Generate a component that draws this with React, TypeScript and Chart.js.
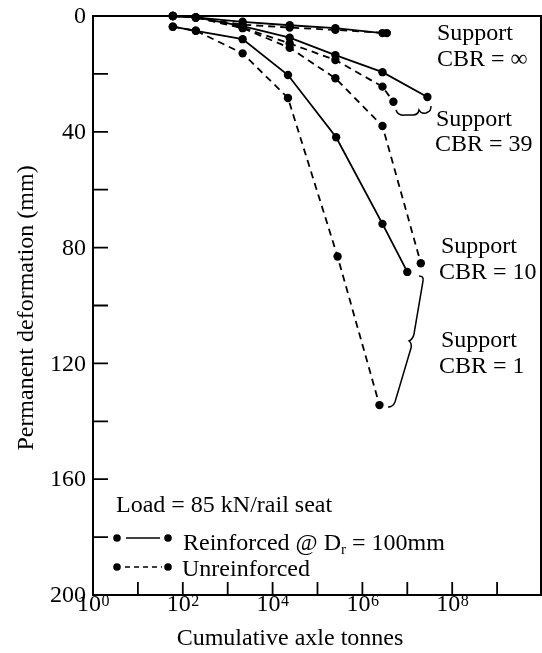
import React, { useEffect, useRef } from "react";
import { Chart, registerables } from "chart.js";

Chart.register(...registerables);

// ---- Data (x = cumulative axle tonnes, y = permanent deformation mm) ----
const infReinfX = [60, 195, 2150, 24000, 250000, 2800000];
const infReinfY = [0, 0.5, 2, 3.2, 4.2, 5.9];
const infUnreinfX = [60, 195, 2150, 24000, 250000, 3500000];
const infUnreinfY = [0, 0.5, 3, 4, 4.8, 5.9];

const cbr39ReinfX = [60, 195, 2150, 24000, 250000, 2800000, 28000000];
const cbr39ReinfY = [0, 0.5, 3.5, 7.5, 13.5, 19.4, 28];
const cbr39UnreinfX = [60, 195, 2150, 24000, 250000, 2800000, 4900000];
const cbr39UnreinfY = [0, 0.5, 4, 9.5, 15.2, 24.4, 29.6];

const cbr10UnreinfX = [60, 195, 2150, 24000, 250000, 2800000, 20000000];
const cbr10UnreinfY = [0, 0.5, 4.2, 11, 21.5, 38, 85.4];

const cbr1ReinfX = [60, 195, 2150, 22000, 260000, 2800000, 10000000];
const cbr1ReinfY = [3.7, 5.1, 8, 20.4, 41.9, 71.8, 88.4];
const cbr1UnreinfX = [60, 195, 2150, 22000, 280000, 2400000];
const cbr1UnreinfY = [3.7, 5.1, 12.9, 28.3, 83.1, 134.4];

const yLabels = [0, 40, 80, 120, 160, 200];
const yMinorTicks = [20, 40, 60, 80, 100, 120, 140, 160, 180];
const xLabelExponents = [0, 2, 4, 6, 8];
const xTickExponents = [1, 2, 3, 4, 5, 6, 7, 8, 9];

const FONT = '"Liberation Serif", "DejaVu Serif", serif';
const W = 542;
const H = 653;

function pts(xs: number[], ys: number[]) {
  return xs.map((x, i) => ({ x, y: ys[i] }));
}

function ds(label: string, xs: number[], ys: number[], dashed: boolean) {
  return {
    label,
    data: pts(xs, ys),
    borderColor: "#000",
    backgroundColor: "#000",
    borderWidth: 1.8,
    borderDash: dashed ? [7, 5] : [],
    pointRadius: 4.2,
    pointBorderWidth: 0,
    pointBackgroundColor: "#000",
    tension: 0,
    clip: false as any,
  };
}

const decorPlugin = {
  id: "decor",
  beforeDatasetsDraw(chart: any) {
    const { ctx, chartArea: ca, scales } = chart;
    const xs = scales.x;
    const ys = scales.y;
    ctx.save();
    ctx.strokeStyle = "#000";
    ctx.lineWidth = 2;
    ctx.beginPath();
    ctx.moveTo(ca.left, ca.top);
    ctx.lineTo(ca.right - 1, ca.top);
    ctx.lineTo(ca.right - 1, ca.bottom);
    ctx.lineTo(ca.left, ca.bottom);
    ctx.closePath();
    ctx.stroke();
    ctx.lineWidth = 1.8;
    ctx.beginPath();
    yMinorTicks.forEach((v) => {
      const py = ys.getPixelForValue(v);
      ctx.moveTo(ca.left, py);
      ctx.lineTo(ca.left + 15, py);
    });
    xTickExponents.forEach((e) => {
      const px = xs.getPixelForValue(Math.pow(10, e));
      ctx.moveTo(px, ca.bottom);
      ctx.lineTo(px, ca.bottom - 13);
    });
    ctx.stroke();
    ctx.restore();
  },
  afterDraw(chart: any) {
    const { ctx, scales } = chart;
    const xs = scales.x;
    const ys = scales.y;
    ctx.save();
    ctx.fillStyle = "#000";
    ctx.strokeStyle = "#000";

    // y tick labels
    ctx.font = `24px ${FONT}`;
    ctx.textAlign = "right";
    ctx.textBaseline = "middle";
    yLabels.forEach((v) => {
      ctx.fillText(String(v), 86, ys.getPixelForValue(v) + 1);
    });

    // x tick labels 10^n
    ctx.textBaseline = "alphabetic";
    ctx.textAlign = "left";
    xLabelExponents.forEach((e) => {
      const px = xs.getPixelForValue(Math.pow(10, e));
      ctx.font = `24px ${FONT}`;
      const w = ctx.measureText("10").width;
      ctx.font = `16px ${FONT}`;
      const ew = ctx.measureText(String(e)).width;
      const start = px - (w + ew) / 2;
      ctx.font = `24px ${FONT}`;
      ctx.fillText("10", start, 611);
      ctx.font = `16px ${FONT}`;
      ctx.fillText(String(e), start + w + 0.5, 606);
    });

    // axis titles
    ctx.font = `24px ${FONT}`;
    ctx.textAlign = "center";
    ctx.fillText("Cumulative axle tonnes", 290, 645);
    ctx.save();
    ctx.translate(33, 308);
    ctx.rotate(-Math.PI / 2);
    ctx.textBaseline = "alphabetic";
    ctx.fillText("Permanent deformation (mm)", 0, 0);
    ctx.restore();

    // annotations
    ctx.textAlign = "left";
    ctx.font = `24px ${FONT}`;
    ctx.fillText("Support", 437, 40);
    ctx.fillText("CBR = \u221E", 437, 66);
    ctx.fillText("Support", 436, 126);
    ctx.fillText("CBR = 39", 435, 151);
    ctx.fillText("Support", 441, 253);
    ctx.fillText("CBR = 10", 439, 279);
    ctx.fillText("Support", 441, 347);
    ctx.fillText("CBR = 1", 439, 373);

    // braces
    ctx.lineWidth = 1.5;
    ctx.beginPath();
    ctx.moveTo(396, 110);
    ctx.quadraticCurveTo(398, 116, 405, 115);
    ctx.lineTo(413, 115);
    ctx.quadraticCurveTo(418, 115, 419, 110);
    ctx.quadraticCurveTo(421, 114, 426, 113);
    ctx.lineTo(428, 112);
    ctx.quadraticCurveTo(431, 111, 431, 106);
    ctx.stroke();

    ctx.beginPath();
    ctx.moveTo(419, 276);
    ctx.quadraticCurveTo(424, 276, 423, 281);
    ctx.lineTo(414, 334);
    ctx.quadraticCurveTo(413, 339, 409, 341);
    ctx.quadraticCurveTo(412, 343, 411, 348);
    ctx.lineTo(395, 402);
    ctx.quadraticCurveTo(393, 407, 388, 407);
    ctx.stroke();

    // legend
    ctx.font = `24px ${FONT}`;
    ctx.fillText("Load = 85 kN/rail seat", 116, 512);
    const dot = (x: number, y: number) => {
      ctx.beginPath();
      ctx.arc(x, y, 3.8, 0, Math.PI * 2);
      ctx.fill();
    };
    dot(117, 538);
    dot(168, 538);
    ctx.lineWidth = 1.6;
    ctx.beginPath();
    ctx.moveTo(126, 538);
    ctx.lineTo(160, 538);
    ctx.stroke();
    let tx = 183;
    ctx.fillText("Reinforced @ D", tx, 550);
    tx += ctx.measureText("Reinforced @ D").width;
    ctx.font = `15px ${FONT}`;
    ctx.fillText("r", tx, 554);
    tx += ctx.measureText("r").width;
    ctx.font = `24px ${FONT}`;
    ctx.fillText(" = 100mm", tx, 550);

    dot(117, 567);
    dot(168, 567);
    ctx.setLineDash([5, 4]);
    ctx.beginPath();
    ctx.moveTo(125, 567);
    ctx.lineTo(162, 567);
    ctx.stroke();
    ctx.setLineDash([]);
    ctx.fillText("Unreinforced", 182, 576);

    ctx.restore();
  },
};

export default function App() {
  const ref = useRef<HTMLCanvasElement | null>(null);
  useEffect(() => {
    if (!ref.current) return;
    const chart = new Chart(ref.current, {
      type: "line",
      data: {
        datasets: [
          ds("CBR ∞ reinforced", infReinfX, infReinfY, false),
          ds("CBR ∞ unreinforced", infUnreinfX, infUnreinfY, true),
          ds("CBR 39 reinforced", cbr39ReinfX, cbr39ReinfY, false),
          ds("CBR 39 unreinforced", cbr39UnreinfX, cbr39UnreinfY, true),
          ds("CBR 10 unreinforced", cbr10UnreinfX, cbr10UnreinfY, true),
          ds("CBR 1 reinforced", cbr1ReinfX, cbr1ReinfY, false),
          ds("CBR 1 unreinforced", cbr1UnreinfX, cbr1UnreinfY, true),
        ] as any,
      },
      options: {
        animation: false,
        responsive: false,
        maintainAspectRatio: false,
        layout: { autoPadding: false, padding: { left: 93, right: 0, top: 16, bottom: 58 } },
        plugins: { legend: { display: false }, tooltip: { enabled: false } },
        scales: {
          x: { type: "logarithmic", min: 1, max: 1e10, display: false },
          y: { type: "linear", min: 0, max: 200, reverse: true, display: false },
        },
      },
      plugins: [decorPlugin],
    });
    return () => chart.destroy();
  }, []);
  return (
    <div style={{ position: "fixed", left: 0, top: 0, width: W, height: H, background: "#fff" }}>
      <canvas ref={ref} width={W} height={H} style={{ width: W, height: H, display: "block" }} />
    </div>
  );
}
